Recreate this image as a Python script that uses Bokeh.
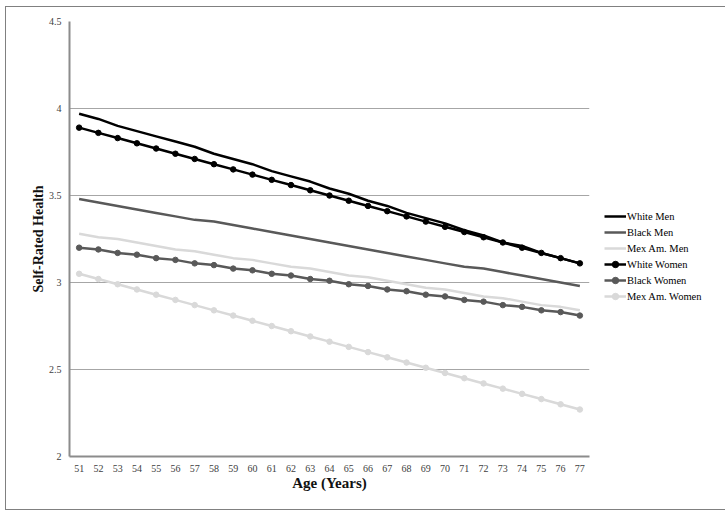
from bokeh.plotting import figure
from bokeh.models import FactorRange, Range1d, Legend, LegendItem, FixedTicker, CustomJSTickFormatter
from bokeh.embed import file_html
from bokeh.resources import INLINE

ages = [str(a) for a in range(51, 78)]

white_men = [3.97, 3.94, 3.90, 3.87, 3.84, 3.81, 3.78, 3.74, 3.71, 3.68, 3.64, 3.61, 3.58, 3.54,
             3.51, 3.47, 3.44, 3.40, 3.37, 3.34, 3.30, 3.27, 3.23, 3.21, 3.17, 3.14, 3.11]
black_men = [3.48, 3.46, 3.44, 3.42, 3.40, 3.38, 3.36, 3.35, 3.33, 3.31, 3.29, 3.27, 3.25, 3.23,
             3.21, 3.19, 3.17, 3.15, 3.13, 3.11, 3.09, 3.08, 3.06, 3.04, 3.02, 3.00, 2.98]
mex_men = [3.28, 3.26, 3.25, 3.23, 3.21, 3.19, 3.18, 3.16, 3.14, 3.13, 3.11, 3.09, 3.08, 3.06,
           3.04, 3.03, 3.01, 2.99, 2.97, 2.96, 2.94, 2.92, 2.91, 2.89, 2.87, 2.86, 2.84]
white_women = [3.89, 3.86, 3.83, 3.80, 3.77, 3.74, 3.71, 3.68, 3.65, 3.62, 3.59, 3.56, 3.53, 3.50,
               3.47, 3.44, 3.41, 3.38, 3.35, 3.32, 3.29, 3.26, 3.23, 3.20, 3.17, 3.14, 3.11]
black_women = [3.20, 3.19, 3.17, 3.16, 3.14, 3.13, 3.11, 3.10, 3.08, 3.07, 3.05, 3.04, 3.02, 3.01,
               2.99, 2.98, 2.96, 2.95, 2.93, 2.92, 2.90, 2.89, 2.87, 2.86, 2.84, 2.83, 2.81]
mex_women = [3.05, 3.02, 2.99, 2.96, 2.93, 2.90, 2.87, 2.84, 2.81, 2.78, 2.75, 2.72, 2.69, 2.66,
             2.63, 2.60, 2.57, 2.54, 2.51, 2.48, 2.45, 2.42, 2.39, 2.36, 2.33, 2.30, 2.27]

y_ticks = [2, 2.5, 3, 3.5, 4, 4.5]

FONT = "Liberation Serif"

p = figure(frame_width=520, frame_height=435, x_range=FactorRange(*ages), y_range=Range1d(2, 4.5),
           output_backend="svg", toolbar_location=None,
           min_border_left=63, min_border_top=14, min_border_right=126, min_border_bottom=53)
p.styles = {"border": "1px solid #808080", "margin-left": "5px", "margin-top": "6px"}
p.outline_line_color = None
p.background_fill_color = "white"

p.x_range.range_padding = 0
p.x_range.factor_padding = 0

p.xgrid.grid_line_color = None
p.ygrid.grid_line_color = "#a6a6a6"
p.ygrid.grid_line_width = 1
p.yaxis.ticker = FixedTicker(ticks=y_ticks)
p.yaxis.formatter = CustomJSTickFormatter(code="return tick.toString();")

for ax in (p.xaxis, p.yaxis):
    ax.axis_line_color = "#8c8c8c"
    ax.axis_line_width = 2
    ax.major_tick_line_color = None
    ax.minor_tick_line_color = None
    ax.major_label_text_font = FONT
    ax.major_label_text_font_size = "10px"
    ax.major_label_text_color = "#404040"
    ax.axis_label_text_font = FONT
    ax.axis_label_text_font_style = "bold"
    ax.axis_label_text_color = "#111111"

p.xaxis.axis_label = "Age (Years)"
p.xaxis.axis_label_text_font_size = "15px"
p.xaxis.major_label_standoff = 2
p.xaxis.axis_label_standoff = 0
p.yaxis.axis_label = "Self-Rated Health"
p.yaxis.axis_label_text_font_size = "14px"
p.yaxis.major_label_standoff = 2
p.yaxis.axis_label_standoff = 0

series = [
    ("White Men", white_men, "#000000", False),
    ("Black Men", black_men, "#595959", False),
    ("Mex Am. Men", mex_men, "#d9d9d9", False),
    ("White Women", white_women, "#000000", True),
    ("Black Women", black_women, "#595959", True),
    ("Mex Am. Women", mex_women, "#d9d9d9", True),
]

items = []
for name, vals, col, mk in series:
    rs = [p.line(ages, vals, line_color=col, line_width=2.5)]
    if mk:
        rs.append(p.scatter(ages, vals, marker="circle", size=5.5, fill_color=col, line_color=col))
    items.append(LegendItem(label=name, renderers=rs))

legend = Legend(items=items, location=(15, 152), orientation="vertical",
                label_text_font=FONT, label_text_font_size="10.5px", label_text_color="#000000",
                glyph_width=22, glyph_height=16, label_height=16, label_standoff=1,
                spacing=0, padding=0, margin=0, border_line_color=None,
                background_fill_alpha=0)
p.add_layout(legend, "right")

open("out.html", "w").write(file_html(p, INLINE))
